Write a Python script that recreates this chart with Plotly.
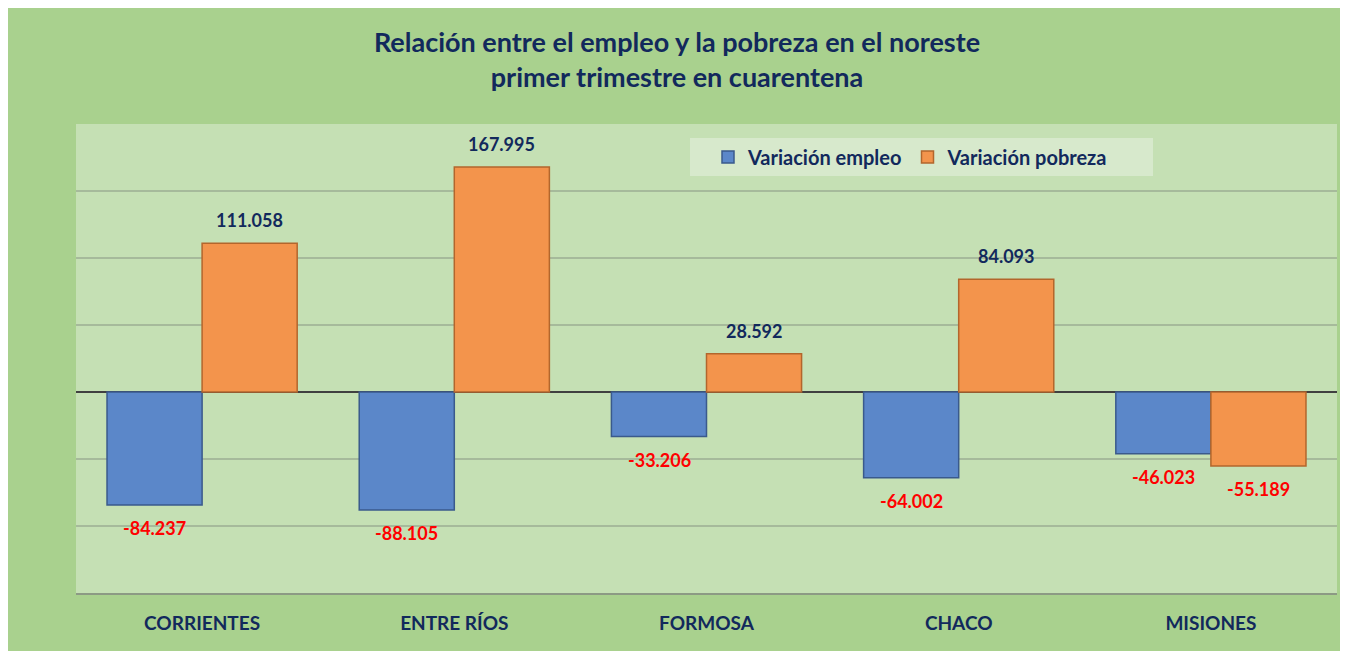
import plotly.graph_objects as go

provincias = ['CORRIENTES', 'ENTRE RÍOS', 'FORMOSA', 'CHACO', 'MISIONES']
var_empleo = [-84.237, -88.105, -33.206, -64.002, -46.023]
var_pobreza = [111.058, 167.995, 28.592, 84.093, -55.189]

NAVY = '#12295c'
FONT = 'Lato'

fig = go.Figure()
fig.add_trace(go.Bar(x=provincias, y=var_empleo, name='Variación empleo',
                     marker=dict(color='#5b87c9', line=dict(color='#3a5a8c', width=1.5))))
fig.add_trace(go.Bar(x=provincias, y=var_pobreza, name='Variación pobreza',
                     marker=dict(color='#f3944c', line=dict(color='#b3662c', width=1.5))))

# etiquetas de datos: rojo si es negativo, azul si es positivo
for serie, shift in [(var_empleo, -47.5), (var_pobreza, 47.5)]:
    for prov, val in zip(provincias, serie):
        fig.add_annotation(x=prov, y=val, text=f'{val:.3f}', showarrow=False,
                           xshift=shift, yshift=23 if val > 0 else -23,
                           font=dict(family=FONT, size=18, weight='bold',
                                     color=NAVY if val > 0 else '#ff0000'))

# caja de la leyenda
fig.add_shape(type='rect', xref='paper', yref='paper',
              x0=(682 - 68) / 1261, x1=(1145 - 68) / 1261,
              y0=(585 - 168) / 469, y1=(585 - 130) / 469,
              fillcolor='#d7e9cc', line=dict(width=0), layer='below')

fig.update_layout(
    width=1340, height=643,
    margin=dict(l=68, r=11, t=116, b=58),
    paper_bgcolor='#a9d18e', plot_bgcolor='#c5e0b4',
    title=dict(text='Relación entre el empleo y la pobreza en el noreste<br>primer trimestre en cuarentena',
               x=669 / 1340, xanchor='center', y=1 - 44 / 643, yanchor='middle',
               font=dict(family=FONT, size=27, color=NAVY, weight='bold')),
    barmode='group', bargap=0.246, bargroupgap=0,
    legend=dict(orientation='h', x=(700 - 68) / 1261, y=(585 - 149) / 469, xanchor='left', yanchor='middle',
                bgcolor='rgba(0,0,0,0)', font=dict(family=FONT, size=20, color=NAVY, weight='bold'),
                itemwidth=30),
    showlegend=True,
    font=dict(family=FONT, color=NAVY),
)
fig.update_xaxes(showgrid=False, showline=True, linecolor='#8c9a84', linewidth=2,
                 tickfont=dict(family=FONT, size=19, color=NAVY, weight='bold'), ticklabelstandoff=12)
fig.update_yaxes(range=[-150, 200], dtick=50, showticklabels=False, gridcolor='#a6ba9b', gridwidth=1.5,
                 zeroline=True, zerolinecolor='#404040', zerolinewidth=2)

fig.write_html('out.html')
